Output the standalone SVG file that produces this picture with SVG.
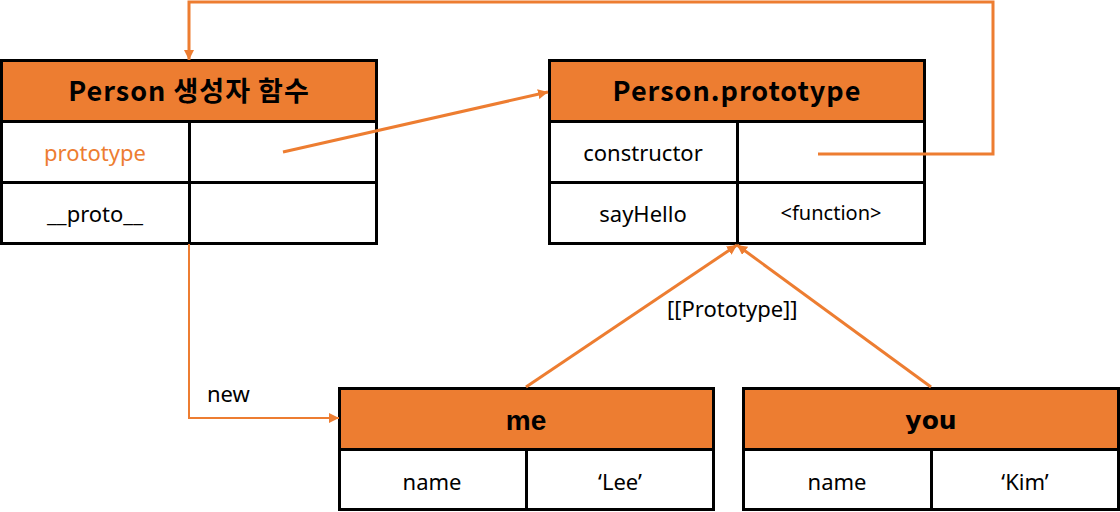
<svg xmlns="http://www.w3.org/2000/svg" width="1120" height="512" viewBox="0 0 1120 512">
<style>
.hdr{fill:#ED7D31;stroke:#000;stroke-width:3}
.cell{fill:#fff;stroke:#000;stroke-width:3}
.title{font-family:"Noto Sans CJK KR","Noto Sans",sans-serif;font-weight:bold;font-size:27px;letter-spacing:1px;fill:#000;text-anchor:middle}
.obj{font-family:"DejaVu Sans","Liberation Sans",sans-serif;font-weight:bold;font-size:25px;fill:#000;text-anchor:middle}
.txt{font-family:"Noto Sans","Noto Sans CJK KR",sans-serif;font-size:22px;fill:#000;text-anchor:middle}
.lbl{font-family:"Noto Sans","Noto Sans CJK KR",sans-serif;font-size:22px;fill:#000}
.conn{fill:none;stroke:#ED7D31;stroke-width:3}
.thin{fill:none;stroke:#ED7D31;stroke-width:2}
</style>
<defs>
<marker id="arr" viewBox="0 0 10 10" refX="10" refY="5" markerWidth="10" markerHeight="10" markerUnits="userSpaceOnUse" orient="auto">
<path d="M0,0 L10,5 L0,10 Z" fill="#ED7D31"/>
</marker>
</defs>
<g id="person-ctor">
<rect class="hdr" x="1.5" y="60.5" width="375" height="61"/>
<rect class="cell" x="1.5" y="121.5" width="188" height="61"/>
<rect class="cell" x="189.5" y="121.5" width="187" height="61"/>
<rect class="cell" x="1.5" y="182.5" width="188" height="61"/>
<rect class="cell" x="189.5" y="182.5" width="187" height="61"/>
<text class="title" x="189" y="101">Person 생성자 함수</text>
<text class="txt" x="95" y="161" style="fill:#ED7D31">prototype</text>
<text class="txt" x="95" y="222">__proto__</text>
</g>
<g id="person-prototype">
<rect class="hdr" x="549.5" y="60.5" width="375" height="61"/>
<rect class="cell" x="549.5" y="121.5" width="188" height="61"/>
<rect class="cell" x="737.5" y="121.5" width="187" height="61"/>
<rect class="cell" x="549.5" y="182.5" width="188" height="61"/>
<rect class="cell" x="737.5" y="182.5" width="187" height="61"/>
<text class="title" x="737" y="101">Person.prototype</text>
<text class="txt" x="643" y="161">constructor</text>
<text class="txt" x="643" y="222">sayHello</text>
<text class="txt" x="831" y="220" style="font-size:20px">&lt;function&gt;</text>
</g>
<g id="me">
<rect class="hdr" x="339.5" y="388.5" width="374" height="61"/>
<rect class="cell" x="339.5" y="449.5" width="187" height="60"/>
<rect class="cell" x="526.5" y="449.5" width="187" height="60"/>
<text class="obj" x="526" y="430" style="font-family:'Liberation Sans',Arial,sans-serif;font-size:28px">me</text>
<text class="txt" x="432" y="490">name</text>
<text class="txt" x="620" y="490">‘Lee’</text>
</g>
<g id="you">
<rect class="hdr" x="743.5" y="388.5" width="375" height="61"/>
<rect class="cell" x="743.5" y="449.5" width="188" height="60"/>
<rect class="cell" x="931.5" y="449.5" width="187" height="60"/>
<text class="obj" x="931" y="429">you</text>
<text class="txt" x="837" y="490">name</text>
<text class="txt" x="1025" y="490">‘Kim’</text>
</g>
<g id="connectors">
<polyline class="conn" points="818,154 993,154 993,2 189,2 189,60" marker-end="url(#arr)"/>
<line class="conn" x1="283" y1="152" x2="548" y2="92" marker-end="url(#arr)"/>
<polyline class="thin" points="189,244 189,418 339,418" marker-end="url(#arr)"/>
<line class="conn" x1="526" y1="387" x2="737" y2="245" marker-end="url(#arr)"/>
<line class="conn" x1="931" y1="387" x2="737" y2="245" marker-end="url(#arr)"/>
<text class="lbl" x="207" y="402">new</text>
<text class="lbl" x="667" y="317">[[Prototype]]</text>
</g>
</svg>
